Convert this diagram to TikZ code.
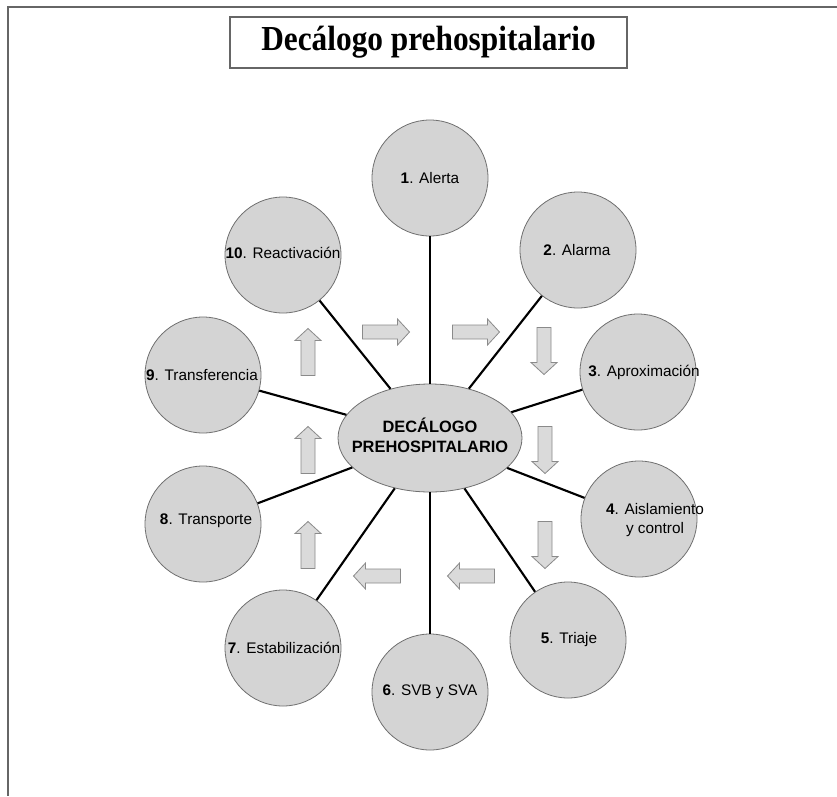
\documentclass[tikz,border=0pt]{standalone}
\usepackage{fontspec}
\usepackage{graphicx}
\setmainfont{Liberation Sans}
\newfontfamily\titlefont{Liberation Serif}
\usetikzlibrary{shapes.geometric}
\definecolor{circfill}{HTML}{D4D4D4}
\definecolor{circline}{HTML}{707070}
\definecolor{arrfill}{HTML}{DADADA}
\definecolor{arrline}{HTML}{8A8A8A}
\definecolor{framecol}{HTML}{666666}
\begin{document}
\begin{tikzpicture}[x=0.75pt,y=-0.75pt,
  circ/.style={circle,draw=circline,fill=circfill,line width=0.6pt,minimum size=87pt,inner sep=0pt},
  hub/.style={ellipse,draw=circline,fill=circfill,line width=0.6pt,minimum width=138pt,minimum height=81pt,inner sep=0pt},
  lbl/.style={font=\fontsize{11.5pt}{14pt}\selectfont,align=center,inner sep=0pt},
  hublbl/.style={font=\bfseries\fontsize{12.3pt}{15pt}\selectfont,align=center,inner sep=0pt},
  spoke/.style={line width=1.6pt,black},
  barrow/.style={draw=arrline,fill=arrfill,line width=0.6pt,line join=miter},
  frameline/.style={draw=framecol,line width=1.4pt},
  titlebox/.style={draw=framecol,line width=0.8pt},
  harrow/.pic={\draw[barrow] (-23.5,-7) -- (11.5,-7) -- (11.5,-13) -- (23.5,0) -- (11.5,13) -- (11.5,7) -- (-23.5,7) -- cycle;},
  varrow/.pic={\draw[barrow] (-7,-23.5) -- (-7,11.5) -- (-13,11.5) -- (0,23.5) -- (13,11.5) -- (7,11.5) -- (7,-23.5) -- cycle;}
]
\useasboundingbox (0,0) rectangle (837,796);
\fill[white] (0,0) rectangle (837,796);
% frame
\draw[frameline] (837,7) -- (8,7) -- (8,796);
% title
\node[titlebox,minimum width=297.75pt,minimum height=38.25pt,inner sep=0pt] (title) at (428.5,42.5)
  {\titlefont\bfseries\scalebox{1}[1.12]{\fontsize{23.5pt}{26pt}\selectfont Decálogo prehospitalario}};
% hub and circles
\node[hub] (hub) at (430,438) {};
\node[circ] (c1) at (430,178) {};
\node[circ] (c2) at (578,250) {};
\node[circ] (c3) at (638,372) {};
\node[circ] (c4) at (639,519) {};
\node[circ] (c5) at (568,640) {};
\node[circ] (c6) at (430,692) {};
\node[circ] (c7) at (283,648) {};
\node[circ] (c8) at (203,524) {};
\node[circ] (c9) at (203,375) {};
\node[circ] (c10) at (283,255) {};
% spokes
\foreach \c in {c1,c2,c3,c4,c5,c6,c7,c8,c9,c10}
  \draw[spoke] (hub) -- (\c);
% texts
\node[hublbl] (th) at (430,435) {DECÁLOGO\\PREHOSPITALARIO};
\node[lbl] (t1) at (430,178) {\textbf{1}. Alerta};
\node[lbl] (t2) at (577,250) {\textbf{2}. Alarma};
\node[lbl] (t3) at (644,372) {\textbf{3}. Aproximación};
\node[lbl] (t4) at (655,520) {\textbf{4}. Aislamiento\\ y control};
\node[lbl] (t5) at (569,640) {\textbf{5}. Triaje};
\node[lbl] (t6) at (430,692) {\textbf{6}. SVB y SVA};
\node[lbl] (t7) at (284,648) {\textbf{7}. Estabilización};
\node[lbl] (t8) at (206,521) {\textbf{8}. Transporte};
\node[lbl] (t9) at (202,375) {\textbf{9}. Transferencia};
\node[lbl] (t10) at (283,253) {\textbf{10}. Reactivación};
% block arrows
\pic at (386,332) {harrow};
\pic at (476,332) {harrow};
\pic at (544,351) {varrow};
\pic at (545,450) {varrow};
\pic at (545,545) {varrow};
\pic[xscale=-1] at (471,576) {harrow};
\pic[xscale=-1] at (377,576) {harrow};
\pic[yscale=-1] at (308,545) {varrow};
\pic[yscale=-1] at (308,450) {varrow};
\pic[yscale=-1] at (308,352) {varrow};
\end{tikzpicture}
\end{document}
